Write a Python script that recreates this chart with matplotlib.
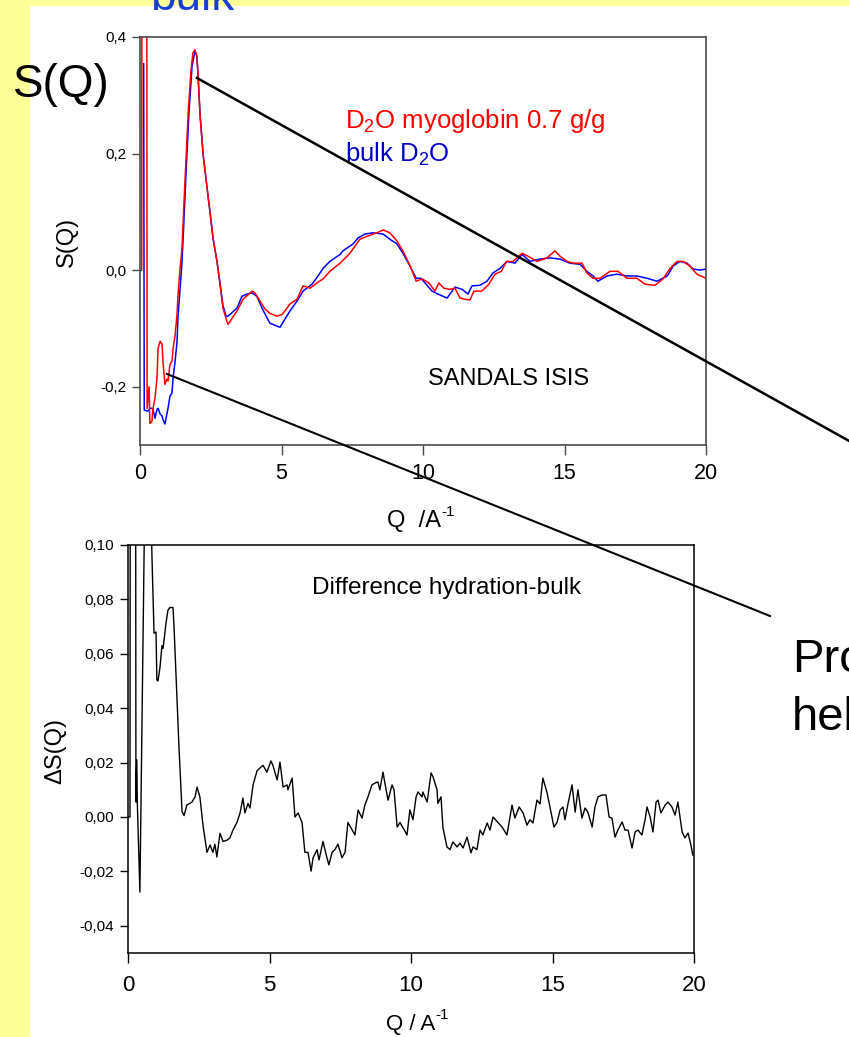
import matplotlib
matplotlib.use("Agg")
import matplotlib.pyplot as plt
from matplotlib.lines import Line2D
from matplotlib.patches import Rectangle
from matplotlib.ticker import FuncFormatter

plt.rcParams['font.family'] = ['Liberation Sans', 'DejaVu Sans']
plt.rcParams['mathtext.default'] = 'regular'

# ---- S(Q): myoglobin hydration water (red) and bulk D2O (blue) ----
q_hyd = [0.00, 0.06, 0.07, 0.24, 0.25, 0.32, 0.35, 0.42, 0.46, 0.53, 0.60, 0.64,
         0.71, 0.78, 0.81, 0.88, 0.95, 0.99, 1.06, 1.13, 1.17, 1.24, 1.31, 1.34,
         1.41, 1.48, 1.59, 1.70, 1.80, 1.87, 1.94, 2.01, 2.05, 2.12, 2.23, 2.37,
         2.47, 2.58, 2.72, 2.83, 2.93, 3.07, 3.11, 3.18, 3.43, 3.64, 3.96, 4.06,
         4.24, 4.42, 4.59, 4.84, 5.02, 5.12, 5.30, 5.55, 5.76, 6.01, 6.25, 6.47,
         6.71, 7.07, 7.42, 7.77, 8.02, 8.37, 8.59, 8.83, 9.08, 9.29, 9.54, 9.76,
         9.97, 10.21, 10.42, 10.56, 10.74, 10.95, 11.13, 11.31, 11.48, 11.66, 11.80,
         12.08, 12.33, 12.54, 12.77, 12.95, 13.18, 13.50, 13.71, 14.03, 14.38, 14.66,
         14.84, 15.09, 15.30, 15.62, 15.79, 16.01, 16.25, 16.61, 16.89, 17.21, 17.56,
         17.84, 18.20, 18.48, 18.73, 18.98, 19.19, 19.43, 19.68, 20.00]
s_hyd = [0.000, 0.000, 0.600, 0.600, -0.237, -0.200, -0.263, -0.260, -0.237, -0.220, -0.185, -0.134,
         -0.122, -0.127, -0.156, -0.196, -0.187, -0.190, -0.162, -0.156, -0.134, -0.112, -0.075, -0.045,
         0.000, 0.035, 0.153, 0.268, 0.342, 0.373, 0.378, 0.367, 0.336, 0.268, 0.199, 0.141,
         0.101, 0.055, 0.015, -0.024, -0.065, -0.088, -0.093, -0.088, -0.070, -0.050, -0.036, -0.039,
         -0.053, -0.067, -0.074, -0.079, -0.076, -0.070, -0.058, -0.050, -0.027, -0.031, -0.022, -0.015,
         -0.002, 0.012, 0.029, 0.053, 0.058, 0.064, 0.069, 0.064, 0.050, 0.033, 0.008, -0.019,
         -0.015, -0.022, -0.036, -0.022, -0.031, -0.033, -0.031, -0.048, -0.050, -0.051, -0.036,
         -0.036, -0.024, -0.007, -0.002, 0.015, 0.015, 0.029, 0.024, 0.015, 0.021, 0.033,
         0.024, 0.015, 0.012, 0.012, -0.005, -0.014, -0.014, -0.002, -0.002, -0.014, -0.014,
         -0.024, -0.026, -0.015, 0.003, 0.015, 0.015, 0.007, -0.007, -0.014]

q_bulk = [0.13, 0.15, 0.28, 0.35, 0.42, 0.46, 0.53, 0.60, 0.64, 0.71, 0.78, 0.81,
          0.88, 0.95, 0.99, 1.06, 1.13, 1.17, 1.24, 1.31, 1.34, 1.41, 1.48, 1.52,
          1.63, 1.73, 1.84, 1.94, 2.01, 2.05, 2.12, 2.23, 2.37, 2.47, 2.58, 2.72,
          2.83, 2.93, 3.04, 3.11, 3.18, 3.43, 3.60, 3.78, 3.96, 4.13, 4.31, 4.49,
          4.59, 4.84, 4.95, 5.12, 5.30, 5.55, 5.76, 6.08, 6.29, 6.47, 6.71, 7.07,
          7.17, 7.53, 7.70, 7.95, 8.23, 8.59, 8.83, 9.08, 9.29, 9.54, 9.76, 9.93,
          10.07, 10.32, 10.53, 10.85, 11.13, 11.38, 11.59, 11.73, 12.01, 12.26, 12.47,
          12.72, 12.97, 13.25, 13.50, 13.78, 14.13, 14.49, 14.84, 15.19, 15.55, 15.79,
          16.01, 16.18, 16.50, 16.85, 17.21, 17.56, 17.92, 18.27, 18.63, 18.84, 19.08,
          19.33, 19.54, 19.79, 20.00]
s_bulk = [0.354, -0.240, -0.242, -0.237, -0.237, -0.239, -0.254, -0.239, -0.237, -0.247, -0.250, -0.256,
          -0.264, -0.247, -0.237, -0.216, -0.211, -0.185, -0.156, -0.122, -0.082, -0.036, 0.010, 0.050,
          0.170, 0.270, 0.350, 0.375, 0.367, 0.336, 0.268, 0.199, 0.141, 0.101, 0.055, 0.015,
          -0.024, -0.060, -0.079, -0.079, -0.076, -0.065, -0.045, -0.041, -0.039, -0.045, -0.065, -0.082,
          -0.091, -0.096, -0.098, -0.084, -0.070, -0.053, -0.036, -0.024, -0.010, 0.003, 0.015, 0.027,
          0.033, 0.045, 0.055, 0.062, 0.064, 0.062, 0.053, 0.045, 0.029, 0.007, -0.014, -0.014,
          -0.022, -0.036, -0.041, -0.048, -0.029, -0.033, -0.041, -0.027, -0.026, -0.019, -0.005,
          0.003, 0.015, 0.012, 0.027, 0.015, 0.019, 0.021, 0.019, 0.012, 0.010, -0.002,
          -0.010, -0.019, -0.010, -0.007, -0.010, -0.010, -0.014, -0.019, -0.010, 0.007, 0.015,
          0.012, 0.002, 0.000, 0.002]

# ---- Difference hydration - bulk ----
q_diff = [0.00, 0.07, 0.08, 0.27, 0.28, 0.31, 0.33, 0.42, 0.62, 0.75,
          0.85, 0.92, 0.99, 1.02, 1.06, 1.13, 1.20, 1.24, 1.34, 1.41, 1.48, 1.59, 1.63,
          1.73, 1.80, 1.91, 1.98, 2.08, 2.26, 2.37, 2.44, 2.54, 2.65, 2.79, 2.90, 3.00,
          3.07, 3.14, 3.25, 3.36, 3.50, 3.60, 3.71, 3.85, 3.96, 4.06, 4.13, 4.24, 4.31,
          4.42, 4.56, 4.66, 4.77, 4.91, 5.05, 5.12, 5.27, 5.37, 5.48, 5.62, 5.65, 5.80,
          5.90, 6.01, 6.15, 6.25, 6.36, 6.47, 6.54, 6.68, 6.75, 6.89, 7.03, 7.10, 7.21,
          7.31, 7.42, 7.56, 7.67, 7.77, 7.92, 8.02, 8.13, 8.27, 8.37, 8.48, 8.62, 8.73,
          8.83, 8.90, 9.01, 9.12, 9.19, 9.33, 9.40, 9.51, 9.61, 9.72, 9.86, 9.96, 10.07,
          10.18, 10.25, 10.39, 10.42, 10.57, 10.71, 10.78, 10.92, 10.95, 11.06, 11.13,
          11.27, 11.38, 11.48, 11.63, 11.73, 11.84, 11.98, 12.12, 12.19, 12.33, 12.44,
          12.54, 12.69, 12.79, 12.90, 13.07, 13.22, 13.39, 13.57, 13.67, 13.82, 13.96,
          14.10, 14.20, 14.31, 14.45, 14.56, 14.66, 14.81, 14.91, 15.05, 15.16, 15.27,
          15.37, 15.44, 15.55, 15.69, 15.80, 15.90, 16.04, 16.15, 16.25, 16.40, 16.50,
          16.61, 16.75, 16.89, 17.00, 17.10, 17.21, 17.31, 17.46, 17.56, 17.67, 17.81,
          17.92, 18.02, 18.16, 18.27, 18.34, 18.45, 18.55, 18.66, 18.73, 18.83, 18.98,
          19.08, 19.22, 19.33, 19.43, 19.58, 19.68, 19.79, 19.89, 19.96]
ds_diff = [0.0000, 0.0000, 0.1400, 0.1400, 0.0055, 0.0210, 0.0050, -0.0276, 0.1400, 0.1400,
           0.0945, 0.0676, 0.0680, 0.0504, 0.0500, 0.0550, 0.0630, 0.0620, 0.0710, 0.0760, 0.0770, 0.0770, 0.0690,
           0.0440, 0.0260, 0.0020, 0.0005, 0.0044, 0.0055, 0.0074, 0.0110, 0.0074, -0.0030, -0.0130, -0.0103, -0.0130,
           -0.0100, -0.0147, -0.0060, -0.0090, -0.0085, -0.0077, -0.0048, -0.0020, 0.0015, 0.0070, 0.0015, 0.0050, 0.0033,
           0.0118, 0.0170, 0.0180, 0.0190, 0.0165, 0.0206, 0.0190, 0.0136, 0.0202, 0.0110, 0.0118, 0.0100, 0.0143,
           0.0000, 0.0015, -0.0020, -0.0130, -0.0130, -0.0199, -0.0150, -0.0120, -0.0158, -0.0090, -0.0150, -0.0176, -0.0130,
           -0.0120, -0.0100, -0.0150, -0.0130, -0.0020, -0.0048, -0.0066, 0.0026, -0.0004, 0.0044, 0.0074, 0.0118, 0.0125,
           0.0129, 0.0100, 0.0165, 0.0100, 0.0062, 0.0118, 0.0100, -0.0037, -0.0020, -0.0040, -0.0066, 0.0026, -0.0010,
           0.0074, 0.0092, 0.0074, 0.0092, 0.0055, 0.0162, 0.0147, 0.0100, 0.0050, 0.0074, -0.0040,
           -0.0110, -0.0120, -0.0092, -0.0110, -0.0096, -0.0114, -0.0074, -0.0132, -0.0110, -0.0120, -0.0048,
           -0.0066, -0.0022, -0.0048, 0.0000, -0.0020, -0.0037, -0.0066, 0.0044, -0.0004, 0.0037, 0.0015,
           -0.0030, -0.0010, -0.0022, 0.0062, 0.0048, 0.0143, 0.0088, 0.0037, -0.0037, -0.0020, 0.0026,
           0.0037, -0.0010, 0.0050, 0.0118, 0.0018, 0.0100, -0.0004, 0.0033, 0.0018, -0.0037, 0.0037,
           0.0074, 0.0081, 0.0081, 0.0000, -0.0004, -0.0074, -0.0048, -0.0018, -0.0048, -0.0048, -0.0114,
           -0.0055, -0.0048, -0.0066, -0.0011, 0.0037, 0.0000, -0.0055, 0.0055, 0.0062, 0.0015, 0.0044,
           0.0055, 0.0037, 0.0007, 0.0055, -0.0055, -0.0077, -0.0059, -0.0103, -0.0140]

top_xticks = [0, 5, 10, 15, 20]
top_yticks = [-0.2, 0.0, 0.2, 0.4]
bot_xticks = [0, 5, 10, 15, 20]
bot_yticks = [-0.04, -0.02, 0.00, 0.02, 0.04, 0.06, 0.08, 0.10]

W, H = 849, 1037
fig = plt.figure(figsize=(W / 100, H / 100), dpi=100, facecolor='#FFFF99')
renderer = fig.canvas.get_renderer()


def fx(px):
    return px / W


def fy(py):
    return 1 - py / H


def label_with_power(x0, base_y, body, power, size, sup_size, rise):
    """Axis caption such as 'Q / A' followed by a raised exponent."""
    t = fig.text(fx(x0), fy(base_y), body, size=size, ha='left', va='baseline')
    right = t.get_window_extent(renderer).x1
    fig.text(right / W, fy(base_y - rise), power, size=sup_size, ha='left', va='baseline')


# white slide area behind everything
fig.patches.append(Rectangle((fx(30), 0), 1 - fx(30), fy(6), transform=fig.transFigure,
                             facecolor='white', edgecolor='none', zorder=-10))


def comma_fmt(decimals):
    return FuncFormatter(lambda v, p: f"{v:.{decimals}f}".replace('.', ','))


# ---------- upper panel ----------
ax1 = fig.add_axes([fx(140), fy(445), fx(706) - fx(140), fy(37) - fy(445)])
ax1.set_facecolor('none')
ax1.plot(q_bulk, s_bulk, color='#0000FF', lw=1.1)
ax1.plot(q_hyd, s_hyd, color='#FF0000', lw=1.1)
ax1.set_xlim(0, 20)
ax1.set_ylim(-0.3, 0.4)
ax1.set_xticks(top_xticks)
ax1.set_yticks(top_yticks)
ax1.xaxis.set_major_formatter(FuncFormatter(lambda v, p: f"{v:.0f}"))
ax1.yaxis.set_major_formatter(comma_fmt(1))
for s in ax1.spines.values():
    s.set_color('#4a4a4a')
    s.set_linewidth(1.2)
ax1.tick_params(axis='x', direction='out', length=7, width=1, color='#4a4a4a',
                labelsize=15.5, pad=6)
ax1.tick_params(axis='y', direction='out', length=6, width=1, color='#4a4a4a',
                labelsize=11, pad=4)

fig.text(fx(345), fy(128), 'D$_2$O myoglobin 0.7 g/g', color='#FF0000', size=18.5,
         ha='left', va='baseline')
fig.text(fx(345), fy(162), 'bulk D$_2$O', color='#0000CC', size=18.5,
         ha='left', va='baseline')
fig.text(fx(509), fy(379), 'SANDALS ISIS', color='black', size=17,
         ha='center', va='center')
label_with_power(387, 527, 'Q  /A', '-1', 17, 11, 11)
fig.text(fx(67), fy(242), 'S(Q)', size=17, rotation=90, ha='center', va='center')

# ---------- lower panel ----------
ax2 = fig.add_axes([fx(128), fy(953), fx(694) - fx(128), fy(545) - fy(953)])
ax2.set_facecolor('none')
ax2.plot(q_diff, ds_diff, color='black', lw=1.0)
ax2.set_xlim(0, 20)
ax2.set_ylim(-0.05, 0.10)
ax2.set_xticks(bot_xticks)
ax2.set_yticks(bot_yticks)
ax2.xaxis.set_major_formatter(FuncFormatter(lambda v, p: f"{v:.0f}"))
ax2.yaxis.set_major_formatter(comma_fmt(2))
for s in ax2.spines.values():
    s.set_color('black')
    s.set_linewidth(1.1)
ax2.tick_params(axis='x', direction='out', length=7, width=1, labelsize=16, pad=9)
ax2.tick_params(axis='y', direction='out', length=6, width=1, labelsize=11, pad=4)

fig.text(fx(447), fy(588), 'Difference hydration-bulk', size=17.5, ha='center', va='center')
label_with_power(386, 1030, 'Q / A', '-1', 16, 11, 11)
fig.text(fx(55), fy(751), '\u0394S(Q)', size=17, rotation=90, ha='center', va='center')

# ---------- slide text ----------
fig.text(fx(13), fy(97), 'S(Q)', size=33, ha='left', va='baseline')
fig.text(fx(150), fy(10), 'bulk', size=33, color='#1A3FD0', ha='left', va='baseline')
fig.text(fx(792), fy(672), 'Pro', size=34, ha='left', va='baseline')
fig.text(fx(792), fy(730), 'hel', size=34, ha='left', va='baseline')

# connector lines from the curves to the side text
fig.add_artist(Line2D([fx(197), fx(860)], [fy(78), fy(447)], color='black', lw=1.8,
                      transform=fig.transFigure, zorder=10))
fig.add_artist(Line2D([fx(167), fx(770)], [fy(374), fy(616)], color='black', lw=1.5,
                      transform=fig.transFigure, zorder=10))

fig.savefig('out.png', dpi=100, facecolor=fig.get_facecolor())
